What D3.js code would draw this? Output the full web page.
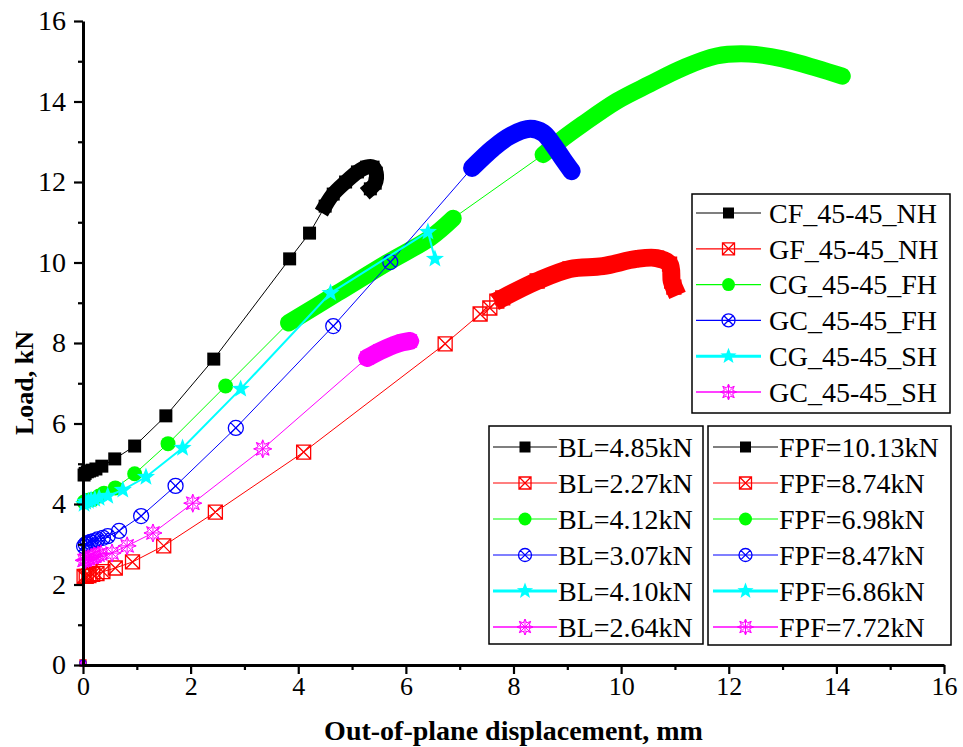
<!DOCTYPE html>
<html>
<meta charset="UTF-8">
<head>
<style>
body { margin: 0; background: white; }
text { font-family: "Liberation Serif", "Times New Roman", serif; }
</style>
</head>
<body>
<script src="https://d3js.org/d3.v7.min.js"></script>
<script>

// data (displacement mm, load kN)
var cfX = [0, 0.02, 0.04, 0.08, 0.12, 0.17, 0.24, 0.35, 0.59, 0.96, 1.54, 2.43, 3.84, 4.21, 4.5, 4.65, 4.88, 5.1, 5.27, 5.39, 5.45, 5.43, 5.34]
var cfY = [0.05, 4.72, 4.76, 4.8, 4.82, 4.84, 4.87, 4.94, 5.12, 5.44, 6.19, 7.6, 10.09, 10.73, 11.4, 11.7, 12.0, 12.25, 12.37, 12.37, 12.22, 11.97, 11.83]

var gfX = [0, 0.02, 0.06, 0.11, 0.18, 0.26, 0.37, 0.6, 0.92, 1.5, 2.46, 4.1, 6.73, 7.38, 7.56, 7.69, 7.8, 8.44, 9.05, 9.66, 10.29, 10.66, 10.9, 10.94, 10.98]
var gfY = [0.05, 2.2, 2.2, 2.22, 2.25, 2.27, 2.32, 2.41, 2.56, 2.96, 3.8, 5.29, 7.98, 8.72, 8.87, 9.04, 9.12, 9.54, 9.84, 9.91, 10.09, 10.11, 9.96, 9.54, 9.39]

var cgX = [0, 0.02, 0.06, 0.12, 0.19, 0.3, 0.39, 0.6, 0.96, 1.58, 2.65, 3.82, 4.73, 5.65, 6.45, 6.88, 8.55, 8.86, 9.29, 9.92, 10.53, 11.14, 11.77, 12.38, 13.0, 13.63, 14.11]
var cgY = [0.05, 4.05, 4.08, 4.1, 4.12, 4.2, 4.27, 4.4, 4.75, 5.5, 6.93, 8.5, 9.24, 9.99, 10.61, 11.1, 12.68, 13.02, 13.44, 14.01, 14.43, 14.83, 15.13, 15.18, 15.06, 14.83, 14.63]

var gcX = [0, 0.02, 0.05, 0.09, 0.14, 0.2, 0.27, 0.37, 0.46, 0.67, 1.08, 1.72, 2.84, 4.65, 5.71, 7.23, 7.62, 7.93, 8.31, 8.55, 8.73, 8.92, 9.08]
var gcY = [0.05, 2.95, 3.0, 3.03, 3.06, 3.08, 3.12, 3.16, 3.2, 3.33, 3.7, 4.45, 5.89, 8.42, 10.01, 12.35, 12.84, 13.14, 13.32, 13.22, 12.94, 12.57, 12.27]

var cgsX = [0, 0.02, 0.05, 0.1, 0.15, 0.22, 0.3, 0.46, 0.74, 1.17, 1.85, 2.93, 4.6, 6.41, 6.54]
var cgsY = [0.05, 4.0, 4.05, 4.07, 4.1, 4.12, 4.15, 4.2, 4.35, 4.67, 5.39, 6.86, 9.24, 10.76, 10.09]

var gcsX = [0, 0.02, 0.05, 0.1, 0.15, 0.2, 0.28, 0.33, 0.54, 0.82, 1.3, 2.04, 3.34, 5.28, 5.52, 5.84, 6.08]
var gcsY = [0.05, 2.6, 2.62, 2.64, 2.67, 2.7, 2.73, 2.76, 2.78, 2.96, 3.28, 4.02, 5.37, 7.63, 7.8, 7.98, 8.05]

var seriesNames = ['CF_45-45_NH', 'GF_45-45_NH', 'CG_45-45_FH', 'GC_45-45_FH', 'CG_45-45_SH', 'GC_45-45_SH']
var blLabels = ['BL=4.85kN', 'BL=2.27kN', 'BL=4.12kN', 'BL=3.07kN', 'BL=4.10kN', 'BL=2.64kN']
var fpfLabels = ['FPF=10.13kN', 'FPF=8.74kN', 'FPF=6.98kN', 'FPF=8.47kN', 'FPF=6.86kN', 'FPF=7.72kN']

// index ranges where the recorded points are so dense they merge into a band
var denseRanges = [[[14, 22]], [[16, 24]], [[11, 15], [16, 26]], [[15, 22]], [], [[13, 16]]]

var xTicks = [0, 2, 4, 6, 8, 10, 12, 14, 16]
var yTicks = [0, 2, 4, 6, 8, 10, 12, 14, 16]

// canvas
var svgWidth = 963
    svgHeight = 747
    margin = {"top": 21, "bottom": 82, "left": 83, "right": 19}
    serif = '"Liberation Serif", "Times New Roman", serif'

var styles = [
  {color: '#000000', marker: 'square', size: 13, band: 15, lw: 1},
  {color: '#ff0000', marker: 'squareX', size: 14, band: 18, lw: 1},
  {color: '#00ff00', marker: 'circle', size: 15, band: 17, lw: 1},
  {color: '#0000ff', marker: 'circleX', size: 15, band: 18, lw: 1},
  {color: '#00ffff', marker: 'star', size: 19, band: 16, lw: 2},
  {color: '#ff00ff', marker: 'asterisk', size: 18, band: 18, lw: 1}
]

var allX = [cfX, gfX, cgX, gcX, cgsX, gcsX]
    allY = [cfY, gfY, cgY, gcY, cgsY, gcsY]

var series = seriesNames.map(function(name, i) {
  return {name: name, style: styles[i], dense: denseRanges[i],
          points: allX[i].map(function(x, j) { return {x: x, y: allY[i][j]}; })};
});

var svg = d3.select("body").append("svg")
          .attr("width", svgWidth)
          .attr("height", svgHeight)
          .attr("font-family", serif)

xScale = d3.scaleLinear()
            .domain([0, 16])
            .range([margin.left, svgWidth - margin.right])

yScale = d3.scaleLinear()
            .domain([0, 16])
            .range([svgHeight - margin.bottom, margin.top])

// marker shapes, centred on 0,0
function markerPath(type, s) {
  var r = s / 2;
  if (type == 'square' || type == 'squareX') {
    var p = 'M' + (-r) + ',' + (-r) + 'H' + r + 'V' + r + 'H' + (-r) + 'Z';
    if (type == 'squareX') p += 'M' + (-r) + ',' + (-r) + 'L' + r + ',' + r + 'M' + r + ',' + (-r) + 'L' + (-r) + ',' + r;
    return p;
  }
  if (type == 'circle' || type == 'circleX') {
    var p = 'M' + r + ',0A' + r + ',' + r + ' 0 1,1 ' + (-r) + ',0A' + r + ',' + r + ' 0 1,1 ' + r + ',0Z';
    if (type == 'circleX') {
      var k = r * 0.707;
      p += 'M' + (-k) + ',' + (-k) + 'L' + k + ',' + k + 'M' + k + ',' + (-k) + 'L' + (-k) + ',' + k;
    }
    return p;
  }
  if (type == 'star') {
    var pts = [];
    for (var i = 0; i < 10; i++) {
      var a = -Math.PI / 2 + i * Math.PI / 5;
      var rr = (i % 2 == 0) ? r : r * 0.42;
      pts.push([rr * Math.cos(a), rr * Math.sin(a)]);
    }
    return 'M' + pts.map(function(q) { return q[0].toFixed(2) + ',' + q[1].toFixed(2); }).join('L') + 'Z';
  }
  // asterisk: spokes plus a spiky outline
  var p = '';
  for (var i = 0; i < 4; i++) {
    var a = i * Math.PI / 4;
    p += 'M' + (r * Math.cos(a)).toFixed(2) + ',' + (r * Math.sin(a)).toFixed(2) +
         'L' + (-r * Math.cos(a)).toFixed(2) + ',' + (-r * Math.sin(a)).toFixed(2);
  }
  var pts = [];
  for (var i = 0; i < 16; i++) {
    var a = -Math.PI / 2 + i * Math.PI / 8;
    var rr = (i % 2 == 0) ? r : r * 0.55;
    pts.push([rr * Math.cos(a), rr * Math.sin(a)]);
  }
  p += 'M' + pts.map(function(q) { return q[0].toFixed(2) + ',' + q[1].toFixed(2); }).join('L') + 'Z';
  return p;
}

function markerFill(st) {
  return (st.marker == 'square' || st.marker == 'circle' || st.marker == 'star') ? st.color : 'none';
}
function markerStroke(st) {
  return (st.marker == 'square' || st.marker == 'circle' || st.marker == 'star') ? 'none' : st.color;
}

var line = d3.line()
             .x(d => xScale(d.x))
             .y(d => yScale(d.y))
    bandLine = d3.line()
             .x(d => xScale(d.x))
             .y(d => yScale(d.y))
             .curve(d3.curveCatmullRom)

// draw each series: thin line, dense band, markers
series.forEach(function(s) {
  var g = svg.append('g').attr('class', 'series');

  g.append('path')
    .datum(s.points)
    .attr('d', line)
    .attr('fill', 'none')
    .attr('stroke', s.style.color)
    .attr('stroke-width', s.style.lw);

  s.dense.forEach(function(rng) {
    g.append('path')
      .datum(s.points.slice(rng[0], rng[1] + 1))
      .attr('d', bandLine)
      .attr('fill', 'none')
      .attr('stroke', s.style.color)
      .attr('stroke-width', s.style.band)
      .attr('stroke-linecap', s.style.marker.indexOf('square') == 0 ? 'square' : 'round')
      .attr('stroke-linejoin', 'round');
  });

  g.selectAll('.mk').data(s.points).enter()
    .append('path')
      .attr('class', 'mk')
      .attr('transform', d => 'translate(' + xScale(d.x) + ',' + yScale(d.y) + ')')
      .attr('d', d => markerPath(s.style.marker, d.y < 0.5 ? 6 : s.style.size))
      .attr('fill', markerFill(s.style))
      .attr('stroke', markerStroke(s.style))
      .attr('stroke-width', s.style.marker == 'asterisk' ? 1 : 1.3);
});

// axes
yAxis = d3.axisLeft(yScale).tickValues(yTicks).tickSize(9).tickSizeOuter(0).tickPadding(8)
yMinor = d3.axisLeft(yScale).tickValues([1, 3, 5, 7, 9, 11, 13, 15]).tickSize(5).tickFormat('')
xAxis = d3.axisBottom(xScale).tickValues(xTicks).tickSize(9).tickSizeOuter(0).tickPadding(3)
xMinor = d3.axisBottom(xScale).tickValues([1, 3, 5, 7, 9, 11, 13, 15]).tickSize(5).tickFormat('')

var plotBottom = svgHeight - margin.bottom

svg.append('g').attr('class', 'yMinor')
    .attr('transform', 'translate(' + margin.left + ', 0)')
    .call(yMinor)
svg.append('g').attr('class', 'yAxis')
    .attr('transform', 'translate(' + margin.left + ', 0)')
    .call(yAxis)
svg.append('g').attr('class', 'xMinor')
    .attr('transform', 'translate(0, ' + plotBottom + ')')
    .call(xMinor)
svg.append('g').attr('class', 'xAxis')
    .attr('transform', 'translate(0, ' + plotBottom + ')')
    .call(xAxis)

svg.selectAll('.yAxis path, .xAxis path').attr('stroke-width', 3).attr('stroke', '#000')
svg.selectAll('.yMinor path, .xMinor path').remove()
svg.selectAll('.tick line').attr('stroke-width', 2.2).attr('stroke', '#000')
svg.selectAll('.yAxis, .xAxis, .yMinor, .xMinor').attr('font-family', serif)
svg.selectAll('.yAxis text').attr('font-size', 28).attr('fill', '#000')
svg.selectAll('.xAxis text').attr('font-size', 26).attr('fill', '#000')

// axis titles
svg.append('text')
    .attr('x', (margin.left + svgWidth - margin.right) / 2)
    .attr('y', 740)
    .attr('text-anchor', 'middle')
    .attr('font-family', serif)
    .attr('font-weight', 'bold')
    .attr('font-size', 28)
    .text('Out-of-plane displacement, mm')

svg.append('text')
    .attr('transform', 'translate(33, 383) rotate(-90)')
    .attr('text-anchor', 'middle')
    .attr('font-family', serif)
    .attr('font-weight', 'bold')
    .attr('font-size', 26)
    .text('Load, kN')

// legends
function drawLegend(box, labels, rowY, rowStep, lineX0, lineX1, textX) {
  var lg = svg.append('g').attr('class', 'legend');
  lg.append('rect')
    .attr('x', box[0]).attr('y', box[1])
    .attr('width', box[2] - box[0]).attr('height', box[3] - box[1])
    .attr('fill', 'white')
    .attr('stroke', '#000')
    .attr('stroke-width', 1.5);

  labels.forEach(function(lab, i) {
    var st = styles[i]
        y = rowY + i * rowStep
        mx = (lineX0 + lineX1) / 2
    lg.append('line')
      .attr('x1', lineX0).attr('x2', lineX1)
      .attr('y1', y).attr('y2', y)
      .attr('stroke', st.color)
      .attr('stroke-width', st.marker == 'star' ? 3 : (st.marker == 'asterisk' ? 1.6 : 1.2));
    lg.append('path')
      .attr('transform', 'translate(' + mx + ',' + y + ')')
      .attr('d', markerPath(st.marker, st.size - 2))
      .attr('fill', markerFill(st))
      .attr('stroke', markerStroke(st))
      .attr('stroke-width', st.marker == 'asterisk' ? 1 : 1.3);
    lg.append('text')
      .attr('x', textX).attr('y', y)
      .attr('dy', '0.35em')
      .attr('font-family', serif)
      .attr('font-size', 28)
      .text(lab);
  });
}

drawLegend([692, 194, 950, 413], seriesNames, 213, 35.8, 696, 761, 769)
drawLegend([489, 426, 703, 644], blLabels, 447, 36, 493, 557, 558)
drawLegend([708, 426, 951, 645], fpfLabels, 447, 36, 713, 778, 779)

</script>
</body>
</html>
